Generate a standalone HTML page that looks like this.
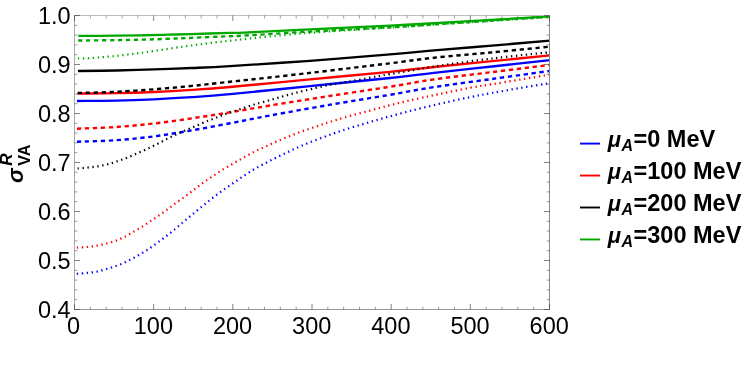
<!DOCTYPE html>
<html><head><meta charset="utf-8"><title>plot</title>
<style>
html,body{margin:0;padding:0;background:#fff;}
body{width:747px;height:377px;position:relative;overflow:hidden;font-family:"Liberation Sans",sans-serif;color:#000;}
.t{position:absolute;white-space:nowrap;line-height:1;font-size:23.5px;}
.yl{text-align:right;width:60px;left:10.7px;}
.xl{text-align:center;width:80px;}
.lg{position:absolute;white-space:nowrap;line-height:1;font-size:23.5px;font-weight:bold;left:607px;}
.lg i{font-style:italic;font-size:22px;margin-left:0.8px;}
.lg sub{font-size:16px;font-style:italic;vertical-align:baseline;position:relative;top:4px;margin-left:0.4px;margin-right:0.5px;}
</style></head><body>
<svg width="747" height="377" viewBox="0 0 747 377" style="position:absolute;left:0;top:0">
<g fill="none" stroke-linecap="butt" stroke-linejoin="round">
<path d="M77.00 101.00 C83.50 100.93 103.17 100.88 116.00 100.60 C128.83 100.32 141.33 99.87 154.00 99.30 C166.67 98.73 179.33 98.05 192.00 97.20 C204.67 96.35 210.33 96.05 230.00 94.20 C249.67 92.35 283.33 88.80 310.00 86.10 C336.67 83.40 369.33 80.20 390.00 78.00 C410.67 75.80 417.00 74.82 434.00 72.90 C451.00 70.98 472.67 68.63 492.00 66.50 C511.33 64.37 540.33 61.17 550.00 60.10" stroke="#0000ff" stroke-width="2.35"/>
<path d="M77.00 141.70 C83.50 141.45 103.17 141.08 116.00 140.20 C128.83 139.32 141.33 138.05 154.00 136.40 C166.67 134.75 179.33 132.48 192.00 130.30 C204.67 128.12 217.00 125.77 230.00 123.30 C243.00 120.83 253.50 118.57 270.00 115.50 C286.50 112.43 309.50 108.27 329.00 104.90 C348.50 101.53 369.50 98.27 387.00 95.30 C404.50 92.33 416.50 89.82 434.00 87.10 C451.50 84.38 472.67 81.70 492.00 79.00 C511.33 76.30 540.33 72.25 550.00 70.90" stroke="#0000ff" stroke-width="2.4" stroke-dasharray="4.3 3.63"/>
<path d="M76.80 273.80 C78.55 273.65 83.93 273.27 87.30 272.90 C90.67 272.53 93.78 272.25 97.00 271.60 C100.22 270.95 103.42 269.93 106.60 269.00 C109.78 268.07 113.02 267.12 116.10 266.00 C119.18 264.88 122.13 263.67 125.10 262.30 C128.07 260.93 130.98 259.38 133.90 257.80 C136.82 256.22 139.78 254.52 142.60 252.80 C145.42 251.08 148.10 249.37 150.80 247.50 C153.50 245.63 156.12 243.57 158.80 241.60 C161.48 239.63 164.27 237.72 166.90 235.70 C169.53 233.68 172.05 231.62 174.60 229.50 C177.15 227.38 179.68 225.13 182.20 223.00 C184.72 220.87 187.18 218.80 189.70 216.70 C192.22 214.60 194.75 212.50 197.30 210.40 C199.85 208.30 202.43 206.18 205.00 204.10 C207.57 202.02 210.08 199.95 212.70 197.90 C215.32 195.85 218.02 193.77 220.70 191.80 C223.38 189.83 226.12 187.95 228.80 186.10 C231.48 184.25 234.10 182.55 236.80 180.70 C239.50 178.85 242.23 176.83 245.00 175.00 C247.77 173.17 250.58 171.37 253.40 169.70 C256.22 168.03 259.05 166.53 261.90 165.00 C264.75 163.47 267.58 161.98 270.50 160.50 C273.42 159.02 276.45 157.53 279.40 156.10 C282.35 154.67 285.23 153.30 288.20 151.90 C291.17 150.50 294.15 149.07 297.20 147.70 C300.25 146.33 303.40 144.98 306.50 143.70 C309.60 142.42 312.67 141.20 315.80 140.00 C318.93 138.80 322.27 137.62 325.30 136.50 C328.33 135.38 331.00 134.37 334.00 133.30 C337.00 132.23 338.53 131.62 343.30 130.10 C348.07 128.58 356.18 126.12 362.60 124.20 C369.02 122.28 375.38 120.42 381.80 118.60 C388.22 116.78 394.67 115.00 401.10 113.30 C407.53 111.60 413.25 110.15 420.40 108.40 C427.55 106.65 435.73 104.68 444.00 102.80 C452.27 100.92 462.00 98.73 470.00 97.10 C478.00 95.47 483.67 94.52 492.00 93.00 C500.33 91.48 510.33 89.65 520.00 88.00 C529.67 86.35 545.00 83.92 550.00 83.10" stroke="#0000ff" stroke-width="2.25" stroke-dasharray="1.35 3.6"/>
<path d="M77.30 93.60 C83.75 93.53 103.22 93.47 116.00 93.20 C128.78 92.93 141.33 92.55 154.00 92.00 C166.67 91.45 179.33 90.73 192.00 89.90 C204.67 89.07 210.33 88.75 230.00 87.00 C249.67 85.25 283.33 81.93 310.00 79.40 C336.67 76.87 369.33 73.87 390.00 71.80 C410.67 69.73 417.00 68.77 434.00 67.00 C451.00 65.23 472.67 63.15 492.00 61.20 C511.33 59.25 540.33 56.28 550.00 55.30" stroke="#ff0000" stroke-width="2.35"/>
<path d="M77.00 128.70 C83.50 128.42 103.17 127.87 116.00 127.00 C128.83 126.13 141.33 124.95 154.00 123.50 C166.67 122.05 179.33 120.17 192.00 118.30 C204.67 116.43 217.00 114.43 230.00 112.30 C243.00 110.17 253.83 108.15 270.00 105.50 C286.17 102.85 307.50 99.45 327.00 96.40 C346.50 93.35 369.17 90.03 387.00 87.20 C404.83 84.37 416.50 81.92 434.00 79.40 C451.50 76.88 472.67 74.52 492.00 72.10 C511.33 69.68 540.33 66.10 550.00 64.90" stroke="#ff0000" stroke-width="2.4" stroke-dasharray="4.3 3.63"/>
<path d="M76.80 247.60 C78.55 247.50 83.93 247.33 87.30 247.00 C90.67 246.67 93.78 246.18 97.00 245.60 C100.22 245.02 103.42 244.33 106.60 243.50 C109.78 242.67 113.10 241.72 116.10 240.60 C119.10 239.48 121.77 238.23 124.60 236.80 C127.43 235.37 130.27 233.63 133.10 232.00 C135.93 230.37 138.83 228.72 141.60 227.00 C144.37 225.28 147.00 223.48 149.70 221.70 C152.40 219.92 155.12 218.15 157.80 216.30 C160.48 214.45 163.15 212.55 165.80 210.60 C168.45 208.65 171.05 206.55 173.70 204.60 C176.35 202.65 179.03 200.83 181.70 198.90 C184.37 196.97 187.05 195.00 189.70 193.00 C192.35 191.00 194.97 188.90 197.60 186.90 C200.23 184.90 202.80 182.90 205.50 181.00 C208.20 179.10 211.10 177.30 213.80 175.50 C216.50 173.70 218.93 171.93 221.70 170.20 C224.47 168.47 227.53 166.75 230.40 165.10 C233.27 163.45 236.07 161.90 238.90 160.30 C241.73 158.70 244.52 157.08 247.40 155.50 C250.28 153.92 253.20 152.28 256.20 150.80 C259.20 149.32 262.37 147.98 265.40 146.60 C268.43 145.22 271.37 143.83 274.40 142.50 C277.43 141.17 280.55 139.87 283.60 138.60 C286.65 137.33 289.65 136.10 292.70 134.90 C295.75 133.70 298.82 132.52 301.90 131.40 C304.98 130.28 308.10 129.27 311.20 128.20 C314.30 127.13 317.37 126.05 320.50 125.00 C323.63 123.95 325.93 123.18 330.00 121.90 C334.07 120.62 338.67 119.07 344.90 117.30 C351.13 115.53 360.17 113.23 367.40 111.30 C374.63 109.37 381.62 107.43 388.30 105.70 C394.98 103.97 400.82 102.45 407.50 100.90 C414.18 99.35 422.63 97.63 428.40 96.40 C434.17 95.17 435.17 94.93 442.10 93.50 C449.03 92.07 461.68 89.33 470.00 87.80 C478.32 86.27 483.67 85.67 492.00 84.30 C500.33 82.93 510.33 81.22 520.00 79.60 C529.67 77.98 545.00 75.43 550.00 74.60" stroke="#ff0000" stroke-width="2.25" stroke-dasharray="1.35 3.6"/>
<path d="M77.90 71.00 C84.25 70.92 103.32 70.77 116.00 70.50 C128.68 70.23 141.33 69.82 154.00 69.40 C166.67 68.98 179.33 68.55 192.00 68.00 C204.67 67.45 210.33 67.30 230.00 66.10 C249.67 64.90 283.33 62.75 310.00 60.80 C336.67 58.85 369.33 56.13 390.00 54.40 C410.67 52.67 417.00 51.87 434.00 50.40 C451.00 48.93 472.67 47.22 492.00 45.60 C511.33 43.98 540.33 41.52 550.00 40.70" stroke="#000000" stroke-width="2.35"/>
<path d="M77.80 93.00 C84.17 92.80 103.30 92.42 116.00 91.80 C128.70 91.18 141.33 90.28 154.00 89.30 C166.67 88.32 179.33 87.15 192.00 85.90 C204.67 84.65 210.33 83.97 230.00 81.80 C249.67 79.63 283.33 75.98 310.00 72.90 C336.67 69.82 369.33 65.83 390.00 63.30 C410.67 60.77 417.00 59.52 434.00 57.70 C451.00 55.88 472.67 54.25 492.00 52.40 C511.33 50.55 540.33 47.57 550.00 46.60" stroke="#000000" stroke-width="2.4" stroke-dasharray="4.3 3.63"/>
<path d="M77.60 168.50 C78.40 168.43 80.77 168.25 82.40 168.10 C84.03 167.95 85.75 167.77 87.40 167.60 C89.05 167.43 90.67 167.30 92.30 167.10 C93.93 166.90 95.57 166.67 97.20 166.40 C98.83 166.13 100.45 165.83 102.10 165.50 C103.75 165.17 105.48 164.80 107.10 164.40 C108.72 164.00 110.22 163.58 111.80 163.10 C113.38 162.62 115.05 162.03 116.60 161.50 C118.15 160.97 119.57 160.45 121.10 159.90 C122.63 159.35 124.28 158.78 125.80 158.20 C127.32 157.62 128.68 157.03 130.20 156.40 C131.72 155.77 133.38 155.07 134.90 154.40 C136.42 153.73 137.80 153.07 139.30 152.40 C140.80 151.73 142.40 151.07 143.90 150.40 C145.40 149.73 146.83 149.08 148.30 148.40 C149.77 147.72 151.20 147.03 152.70 146.30 C154.20 145.57 155.80 144.77 157.30 144.00 C158.80 143.23 160.22 142.48 161.70 141.70 C163.18 140.92 164.72 140.07 166.20 139.30 C167.68 138.53 169.13 137.80 170.60 137.10 C172.07 136.40 173.53 135.77 175.00 135.10 C176.47 134.43 177.93 133.77 179.40 133.10 C180.87 132.43 182.30 131.75 183.80 131.10 C185.30 130.45 186.90 129.83 188.40 129.20 C189.90 128.57 191.28 127.95 192.80 127.30 C194.32 126.65 195.93 125.98 197.50 125.30 C199.07 124.62 200.68 123.85 202.20 123.20 C203.72 122.55 205.12 122.00 206.60 121.40 C208.08 120.80 209.57 120.20 211.10 119.60 C212.63 119.00 214.28 118.40 215.80 117.80 C217.32 117.20 218.68 116.60 220.20 116.00 C221.72 115.40 223.33 114.75 224.90 114.20 C226.47 113.65 228.03 113.22 229.60 112.70 C231.17 112.18 232.73 111.63 234.30 111.10 C235.87 110.57 237.43 110.02 239.00 109.50 C240.57 108.98 242.15 108.52 243.70 108.00 C245.25 107.48 246.75 106.92 248.30 106.40 C249.85 105.88 251.43 105.38 253.00 104.90 C254.57 104.42 255.30 104.17 257.70 103.50 C260.10 102.83 264.22 101.80 267.40 100.90 C270.58 100.00 273.68 99.00 276.80 98.10 C279.92 97.20 282.98 96.37 286.10 95.50 C289.22 94.63 292.27 93.75 295.50 92.90 C298.73 92.05 302.15 91.22 305.50 90.40 C308.85 89.58 312.35 88.77 315.60 88.00 C318.85 87.23 321.88 86.47 325.00 85.80 C328.12 85.13 331.18 84.57 334.30 84.00 C337.42 83.43 340.57 82.92 343.70 82.40 C346.83 81.88 348.72 81.68 353.10 80.90 C357.48 80.12 363.85 78.83 370.00 77.70 C376.15 76.57 379.33 75.95 390.00 74.10 C400.67 72.25 417.00 69.20 434.00 66.60 C451.00 64.00 472.67 60.90 492.00 58.50 C511.33 56.10 540.33 53.25 550.00 52.20" stroke="#000000" stroke-width="2.25" stroke-dasharray="1.35 3.6"/>
<path d="M78.30 35.90 C84.58 35.87 105.05 35.81 116.00 35.70 C126.95 35.59 135.33 35.42 144.00 35.25 C152.67 35.08 160.17 34.90 168.00 34.70 C175.83 34.50 180.67 34.35 191.00 34.05 C201.33 33.75 221.17 33.14 230.00 32.90 C238.83 32.66 230.67 33.18 244.00 32.60 C257.33 32.02 285.67 30.57 310.00 29.40 C334.33 28.23 363.33 26.97 390.00 25.60 C416.67 24.23 443.33 22.73 470.00 21.20 C496.67 19.67 536.67 17.20 550.00 16.40" stroke="#00a800" stroke-width="2.35"/>
<path d="M78.20 40.50 C84.50 40.44 105.03 40.30 116.00 40.15 C126.97 40.00 135.33 39.83 144.00 39.60 C152.67 39.38 160.17 39.09 168.00 38.80 C175.83 38.51 180.67 38.28 191.00 37.85 C201.33 37.42 221.17 36.58 230.00 36.20 C238.83 35.83 230.67 36.37 244.00 35.60 C257.33 34.83 285.67 32.98 310.00 31.60 C334.33 30.22 363.33 28.90 390.00 27.30 C416.67 25.70 443.33 23.75 470.00 22.00 C496.67 20.25 536.67 17.67 550.00 16.80" stroke="#00a800" stroke-width="2.4" stroke-dasharray="4.3 3.63"/>
<path d="M77.90 58.50 C79.58 58.47 84.68 58.47 88.00 58.30 C91.32 58.13 94.52 57.77 97.80 57.50 C101.08 57.23 104.42 56.98 107.70 56.70 C110.98 56.42 114.23 56.15 117.50 55.80 C120.77 55.45 124.02 55.00 127.30 54.60 C130.58 54.20 133.92 53.83 137.20 53.40 C140.48 52.97 142.97 52.60 147.00 52.00 C151.03 51.40 156.55 50.52 161.40 49.80 C166.25 49.08 171.18 48.42 176.10 47.70 C181.02 46.98 185.98 46.18 190.90 45.50 C195.82 44.82 200.70 44.22 205.60 43.60 C210.50 42.98 215.40 42.37 220.30 41.80 C225.20 41.23 229.72 40.80 235.00 40.20 C240.28 39.60 246.17 38.83 252.00 38.20 C257.83 37.57 263.67 37.02 270.00 36.40 C276.33 35.78 283.33 35.10 290.00 34.50 C296.67 33.90 300.00 33.55 310.00 32.80 C320.00 32.05 336.67 30.87 350.00 30.00 C363.33 29.13 370.00 28.90 390.00 27.60 C410.00 26.30 443.33 23.97 470.00 22.20 C496.67 20.43 536.67 17.87 550.00 17.00" stroke="#00a800" stroke-width="2.25" stroke-dasharray="1.35 3.6"/>
</g>
<g fill="none" stroke-width="1" shape-rendering="crispEdges">
<path d="M74.50 15.00V310.00" stroke="#aaaaaa"/>
<path d="M549.50 15.00V310.00" stroke="#888888"/>
<path d="M74.00 15.50H550.00" stroke="#bebebe"/>
<path d="M74.00 309.50H550.00" stroke="#989898"/>
</g>
<path d="M74.50 309.50v-5.50M74.50 15.50v5.50M153.67 309.50v-5.50M153.67 15.50v5.50M232.83 309.50v-5.50M232.83 15.50v5.50M312.00 309.50v-5.50M312.00 15.50v5.50M391.17 309.50v-5.50M391.17 15.50v5.50M470.33 309.50v-5.50M470.33 15.50v5.50M549.50 309.50v-5.50M549.50 15.50v5.50M74.50 309.50h5.50M549.50 309.50h-5.50M74.50 260.50h5.50M549.50 260.50h-5.50M74.50 211.50h5.50M549.50 211.50h-5.50M74.50 162.50h5.50M549.50 162.50h-5.50M74.50 113.50h5.50M549.50 113.50h-5.50M74.50 64.50h5.50M549.50 64.50h-5.50M74.50 15.50h5.50M549.50 15.50h-5.50" stroke="#404040" stroke-width="0.65" fill="none"/>
<path d="M90.33 309.50v-3.00M90.33 15.50v3.00M106.17 309.50v-3.00M106.17 15.50v3.00M122.00 309.50v-3.00M122.00 15.50v3.00M137.83 309.50v-3.00M137.83 15.50v3.00M169.50 309.50v-3.00M169.50 15.50v3.00M185.33 309.50v-3.00M185.33 15.50v3.00M201.17 309.50v-3.00M201.17 15.50v3.00M217.00 309.50v-3.00M217.00 15.50v3.00M248.67 309.50v-3.00M248.67 15.50v3.00M264.50 309.50v-3.00M264.50 15.50v3.00M280.33 309.50v-3.00M280.33 15.50v3.00M296.17 309.50v-3.00M296.17 15.50v3.00M327.83 309.50v-3.00M327.83 15.50v3.00M343.67 309.50v-3.00M343.67 15.50v3.00M359.50 309.50v-3.00M359.50 15.50v3.00M375.33 309.50v-3.00M375.33 15.50v3.00M407.00 309.50v-3.00M407.00 15.50v3.00M422.83 309.50v-3.00M422.83 15.50v3.00M438.67 309.50v-3.00M438.67 15.50v3.00M454.50 309.50v-3.00M454.50 15.50v3.00M486.17 309.50v-3.00M486.17 15.50v3.00M502.00 309.50v-3.00M502.00 15.50v3.00M517.83 309.50v-3.00M517.83 15.50v3.00M533.67 309.50v-3.00M533.67 15.50v3.00M74.50 299.70h3.00M549.50 299.70h-3.00M74.50 289.90h3.00M549.50 289.90h-3.00M74.50 280.10h3.00M549.50 280.10h-3.00M74.50 270.30h3.00M549.50 270.30h-3.00M74.50 250.70h3.00M549.50 250.70h-3.00M74.50 240.90h3.00M549.50 240.90h-3.00M74.50 231.10h3.00M549.50 231.10h-3.00M74.50 221.30h3.00M549.50 221.30h-3.00M74.50 201.70h3.00M549.50 201.70h-3.00M74.50 191.90h3.00M549.50 191.90h-3.00M74.50 182.10h3.00M549.50 182.10h-3.00M74.50 172.30h3.00M549.50 172.30h-3.00M74.50 152.70h3.00M549.50 152.70h-3.00M74.50 142.90h3.00M549.50 142.90h-3.00M74.50 133.10h3.00M549.50 133.10h-3.00M74.50 123.30h3.00M549.50 123.30h-3.00M74.50 103.70h3.00M549.50 103.70h-3.00M74.50 93.90h3.00M549.50 93.90h-3.00M74.50 84.10h3.00M549.50 84.10h-3.00M74.50 74.30h3.00M549.50 74.30h-3.00M74.50 54.70h3.00M549.50 54.70h-3.00M74.50 44.90h3.00M549.50 44.90h-3.00M74.50 35.10h3.00M549.50 35.10h-3.00M74.50 25.30h3.00M549.50 25.30h-3.00" stroke="#505050" stroke-width="0.55" fill="none"/>
<path d="M580 143.60H600" stroke="#0000ff" stroke-width="1.9" fill="none"/>
<path d="M580 175.55H600" stroke="#ff0000" stroke-width="1.9" fill="none"/>
<path d="M580 207.50H600" stroke="#000000" stroke-width="1.9" fill="none"/>
<path d="M580 239.45H600" stroke="#00a800" stroke-width="1.9" fill="none"/>
</svg>
<div id="txt" style="position:absolute;left:0;top:0;width:747px;height:377px;will-change:transform;">
<div class="t yl" style="top:5.00px">1.0</div>
<div class="t yl" style="top:54.00px">0.9</div>
<div class="t yl" style="top:103.00px">0.8</div>
<div class="t yl" style="top:152.00px">0.7</div>
<div class="t yl" style="top:201.00px">0.6</div>
<div class="t yl" style="top:250.00px">0.5</div>
<div class="t yl" style="top:299.00px">0.4</div>
<div class="t xl" style="left:33.50px;top:315.00px">0</div>
<div class="t xl" style="left:113.37px;top:315.00px">100</div>
<div class="t xl" style="left:192.53px;top:315.00px">200</div>
<div class="t xl" style="left:271.70px;top:315.00px">300</div>
<div class="t xl" style="left:350.87px;top:315.00px">400</div>
<div class="t xl" style="left:430.03px;top:315.00px">500</div>
<div class="t xl" style="left:509.20px;top:315.00px">600</div>
<div class="lg" style="top:128.00px"><i>μ</i><sub>A</sub>=0 MeV</div>
<div class="lg" style="top:160.00px"><i>μ</i><sub>A</sub>=100 MeV</div>
<div class="lg" style="top:192.00px"><i>μ</i><sub>A</sub>=200 MeV</div>
<div class="lg" style="top:224.00px"><i>μ</i><sub>A</sub>=300 MeV</div>
<div id="ylab" style="position:absolute;left:0;top:0;width:0;height:0;">
<div style="position:absolute;left:23.8px;top:182px;transform-origin:0 0;transform:rotate(-90deg);white-space:nowrap;line-height:1;font-weight:bold;font-size:24px;">
<span style="position:absolute;left:-1px;top:-19.1px;font-style:italic;font-size:22px;">σ</span>
<span style="position:absolute;left:16.2px;top:-8.4px;font-size:16.3px;">VA</span>
<span style="position:absolute;left:16.2px;top:-26.3px;font-size:17px;font-style:italic;">R</span>
</div></div>
</div>
</body></html>
